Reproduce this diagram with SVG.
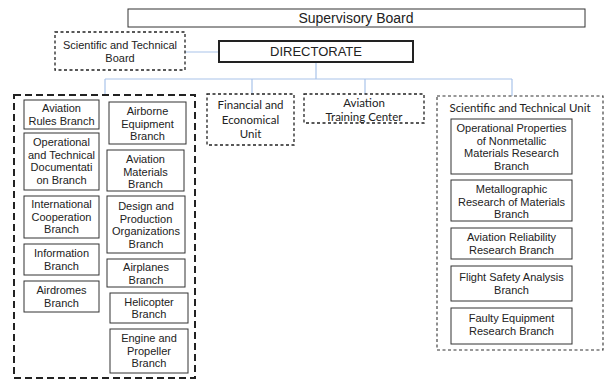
<svg xmlns="http://www.w3.org/2000/svg" width="604" height="381" viewBox="0 0 604 381">
<style>
.b{fill:#fff;stroke:#333;stroke-width:1}
.d{fill:none;stroke:#222;stroke-width:1.3;stroke-dasharray:3,2.5}
.D{fill:none;stroke:#222;stroke-width:2;stroke-dasharray:7,4}
.t{font-family:"Liberation Sans",Arial,sans-serif;font-size:11px;fill:#222;text-anchor:middle}
.c{font-family:Lato,"Open Sans","Liberation Sans",sans-serif;font-size:11.5px;fill:#222;text-anchor:middle}
.k{fill:none;stroke:#a9c3ea;stroke-width:1.2}
</style>
<g id="connectors">
<path class="k" d="M185,52H219M316,62V79M105,79H512M105,79V95M252,79V94M365,79V94M512,79V96"/>
</g>
<g id="supervisory"><rect class="b" x="128" y="9" width="457" height="18"/><text class="t" x="356" y="23" style="font-size:14px">Supervisory Board</text></g>
<g id="directorate"><rect class="b" x="219" y="41" width="194" height="21" style="stroke-width:2;stroke:#222"/><text class="t" x="316" y="56" style="font-size:13px">DIRECTORATE</text></g>
<g id="stboard"><rect class="d" x="55" y="32" width="130" height="38"/><text class="t" x="120" y="49">Scientific and Technical</text><text class="t" x="120" y="62">Board</text></g>
<g id="leftgroup"><rect class="D" x="14" y="95" width="181" height="283"/></g>
<g id="rules"><rect class="b" x="24" y="100" width="75" height="29"/><text class="t" x="61.5" y="112">Aviation</text><text class="t" x="61.5" y="125">Rules Branch</text></g>
<g id="optech"><rect class="b" x="24" y="133" width="75" height="57"/><text class="t" x="61.5" y="146">Operational</text><text class="t" x="61.5" y="158.5">and Technical</text><text class="t" x="61.5" y="171">Documentati</text><text class="t" x="61.5" y="183.5">on Branch</text></g>
<g id="intl"><rect class="b" x="24" y="196" width="75" height="42"/><text class="t" x="61.5" y="208">International</text><text class="t" x="61.5" y="220.5">Cooperation</text><text class="t" x="61.5" y="233">Branch</text></g>
<g id="info"><rect class="b" x="24" y="244" width="75" height="31"/><text class="t" x="61.5" y="257">Information</text><text class="t" x="61.5" y="269.5">Branch</text></g>
<g id="airdromes"><rect class="b" x="24" y="281" width="75" height="31"/><text class="t" x="61.5" y="294">Airdromes</text><text class="t" x="61.5" y="306.5">Branch</text></g>
<g id="airborne"><rect class="b" x="109" y="102" width="77" height="42"/><text class="t" x="147.5" y="115">Airborne</text><text class="t" x="147.5" y="127.5">Equipment</text><text class="t" x="147.5" y="140">Branch</text></g>
<g id="materials"><rect class="b" x="107" y="150" width="77" height="41"/><text class="t" x="145.5" y="163">Aviation</text><text class="t" x="145.5" y="175.5">Materials</text><text class="t" x="145.5" y="188">Branch</text></g>
<g id="design"><rect class="b" x="107" y="196" width="78" height="57"/><text class="t" x="146" y="210">Design and</text><text class="t" x="146" y="222.5">Production</text><text class="t" x="146" y="235">Organizations</text><text class="t" x="146" y="247.5">Branch</text></g>
<g id="airplanes"><rect class="b" x="107" y="259" width="78" height="28"/><text class="t" x="146" y="271">Airplanes</text><text class="t" x="146" y="283.5">Branch</text></g>
<g id="helicopter"><rect class="b" x="110" y="293" width="78" height="30"/><text class="t" x="149" y="305.5">Helicopter</text><text class="t" x="149" y="318">Branch</text></g>
<g id="engine"><rect class="b" x="110" y="329" width="78" height="44"/><text class="t" x="149" y="342">Engine and</text><text class="t" x="149" y="354.5">Propeller</text><text class="t" x="149" y="367">Branch</text></g>
<g id="financial"><rect class="d" x="207" y="94" width="87" height="51"/><text class="c" x="250.5" y="109">Financial and</text><text class="c" x="250.5" y="123.5">Economical</text><text class="c" x="250.5" y="138">Unit</text></g>
<g id="training"><rect class="d" x="304" y="94" width="120" height="29"/><text class="c" x="364" y="107">Aviation</text><text class="c" x="364" y="120.5">Training Center</text></g>
<g id="stunit"><rect class="d" x="437" y="96" width="166" height="254" style="stroke:#333;stroke-width:1.1"/><text class="c" x="520" y="112">Scientific and Technical Unit</text></g>
<g id="nonmetallic"><rect class="b" x="451" y="119" width="121" height="55"/><text class="t" x="511.5" y="132">Operational Properties</text><text class="t" x="511.5" y="144.5">of Nonmetallic</text><text class="t" x="511.5" y="157">Materials Research</text><text class="t" x="511.5" y="169.5">Branch</text></g>
<g id="metallographic"><rect class="b" x="451" y="180" width="121" height="41"/><text class="t" x="511.5" y="193">Metallographic</text><text class="t" x="511.5" y="205.5">Research of Materials</text><text class="t" x="511.5" y="218">Branch</text></g>
<g id="reliability"><rect class="b" x="451" y="228" width="121" height="31"/><text class="t" x="511.5" y="241">Aviation Reliability</text><text class="t" x="511.5" y="253.5">Research Branch</text></g>
<g id="flightsafety"><rect class="b" x="451" y="266" width="121" height="35"/><text class="t" x="511.5" y="281">Flight Safety Analysis</text><text class="t" x="511.5" y="293.5">Branch</text></g>
<g id="faulty"><rect class="b" x="451" y="308" width="121" height="36"/><text class="t" x="511.5" y="322">Faulty Equipment</text><text class="t" x="511.5" y="334.5">Research Branch</text></g>
</svg>
